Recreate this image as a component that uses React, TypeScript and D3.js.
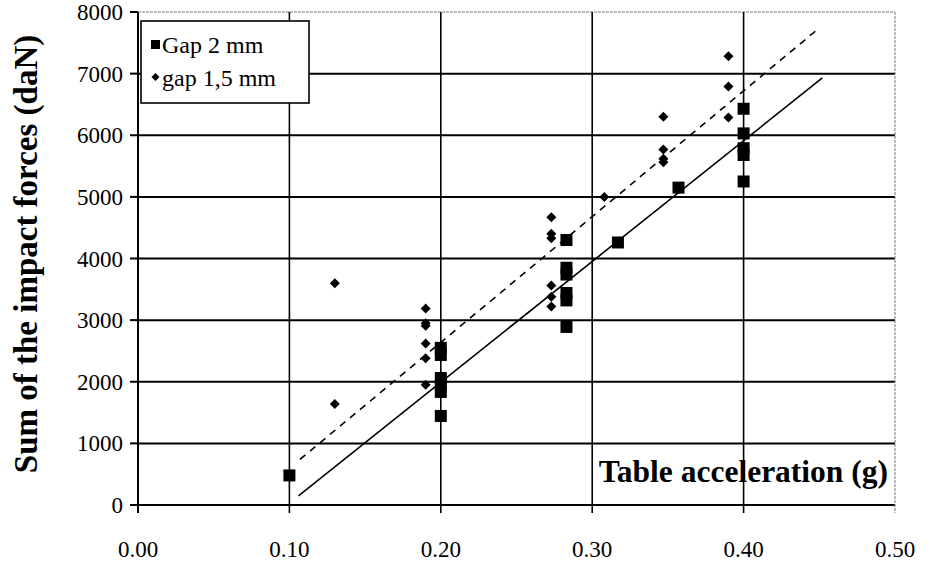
import React from "react";
import * as d3 from "d3";

// ---- data ----
const gap2X = [0.10, 0.20, 0.20, 0.20, 0.20, 0.20, 0.20, 0.283, 0.283, 0.283, 0.283, 0.283, 0.283, 0.317, 0.357, 0.40, 0.40, 0.40, 0.40, 0.40];
const gap2Y = [480, 2550, 2435, 2060, 1950, 1835, 1445, 4300, 3850, 3740, 3440, 3320, 2890, 4260, 5150, 6430, 6030, 5790, 5680, 5250];

const gap15X = [0.13, 0.13, 0.19, 0.19, 0.19, 0.19, 0.19, 0.19, 0.273, 0.273, 0.273, 0.273, 0.273, 0.273, 0.308, 0.347, 0.347, 0.347, 0.347, 0.39, 0.39, 0.39];
const gap15Y = [3600, 1640, 3190, 2950, 2910, 2620, 2380, 1950, 4670, 4400, 4330, 3560, 3380, 3220, 5000, 6300, 5770, 5620, 5560, 7280, 6790, 6290];

const trendGap2X = [0.106, 0.452];
const trendGap2Y = [150, 6930];
const trendGap15X = [0.107, 0.448];
const trendGap15Y = [740, 7700];

const xTicks = [0, 0.1, 0.2, 0.3, 0.4, 0.5];
const yTicks = [0, 1000, 2000, 3000, 4000, 5000, 6000, 7000, 8000];

const legendLabels = ["Gap 2 mm", "gap 1,5 mm"];

const FONT = '"Liberation Serif", "Times New Roman", serif';

export default function App() {
  const W = 943, H = 566;
  const x = d3.scaleLinear().domain([0, 0.5]).range([138, 895]);
  const y = d3.scaleLinear().domain([0, 8000]).range([505, 12]);
  const line = d3.line<[number, number]>().x(d => x(d[0])).y(d => y(d[1]));
  const sq = 12;
  const dm = 5;

  return (
    <svg width={W} height={H} style={{ position: "absolute", left: 0, top: 0, background: "#fff" }} fontFamily={FONT}>
      <rect x={0} y={0} width={W} height={H} fill="#fff" />
      {/* horizontal grid */}
      {yTicks.map(t => {
        const top = t === 8000;
        return (
          <line key={"h" + t} x1={x(0)} x2={x(0.5)} y1={y(t)} y2={y(t)}
            stroke={top ? "#777" : "#000"} strokeWidth={top ? 1 : 2}
            strokeDasharray={top ? "3,1" : undefined} />
        );
      })}
      {/* vertical grid */}
      {xTicks.map(t => {
        const right = t === 0.5;
        return (
          <line key={"v" + t} x1={x(t)} x2={x(t)} y1={y(8000)} y2={y(0) + 8}
            stroke={right ? "#777" : "#000"} strokeWidth={right ? 1 : (t === 0 ? 2 : 1.6)}
            strokeDasharray={right ? "3,1" : undefined} />
        );
      })}
      {/* y ticks */}
      {yTicks.map(t => (
        <line key={"yt" + t} x1={x(0) - 8} x2={x(0)} y1={y(t)} y2={y(t)} stroke="#000" strokeWidth={2} />
      ))}
      {/* tick labels */}
      {yTicks.map(t => (
        <text key={"yl" + t} x={123} y={y(t)} dy="0.35em" textAnchor="end" fontSize={23}>{t}</text>
      ))}
      {xTicks.map(t => (
        <text key={"xl" + t} x={x(t)} y={557} textAnchor="middle" fontSize={23}>{t.toFixed(2)}</text>
      ))}
      {/* trend lines */}
      <path d={line(trendGap2X.map((v, i) => [v, trendGap2Y[i]]) as [number, number][]) || ""} fill="none" stroke="#000" strokeWidth={1.6} />
      <path d={line(trendGap15X.map((v, i) => [v, trendGap15Y[i]]) as [number, number][]) || ""} fill="none" stroke="#000" strokeWidth={1.6} strokeDasharray="7,6" />
      {/* diamonds */}
      {gap15X.map((v, i) => {
        const cx = x(v), cy = y(gap15Y[i]);
        return <path key={"d" + i} d={`M${cx},${cy - dm}L${cx + dm},${cy}L${cx},${cy + dm}L${cx - dm},${cy}Z`} fill="#000" />;
      })}
      {/* squares */}
      {gap2X.map((v, i) => (
        <rect key={"s" + i} x={x(v) - sq / 2} y={y(gap2Y[i]) - sq / 2} width={sq} height={sq} fill="#000" />
      ))}
      {/* legend */}
      <rect x={141} y={21} width={168} height={82} fill="#fff" stroke="#000" strokeWidth={1.6} />
      <rect x={151} y={40} width={9} height={9} fill="#000" />
      <text x={162} y={53} fontSize={24}>{legendLabels[0]}</text>
      <path d="M155.5,73L159.5,77L155.5,81L151.5,77Z" fill="#000" />
      <text x={162} y={86} fontSize={24}>{legendLabels[1]}</text>
      {/* axis titles */}
      <text x={888} y={482} textAnchor="end" fontSize={31.5} fontWeight="bold">Table acceleration (g)</text>
      <text transform="translate(37,254) rotate(-90)" textAnchor="middle" fontSize={33} fontWeight="bold">Sum of the impact forces (daN)</text>
    </svg>
  );
}
